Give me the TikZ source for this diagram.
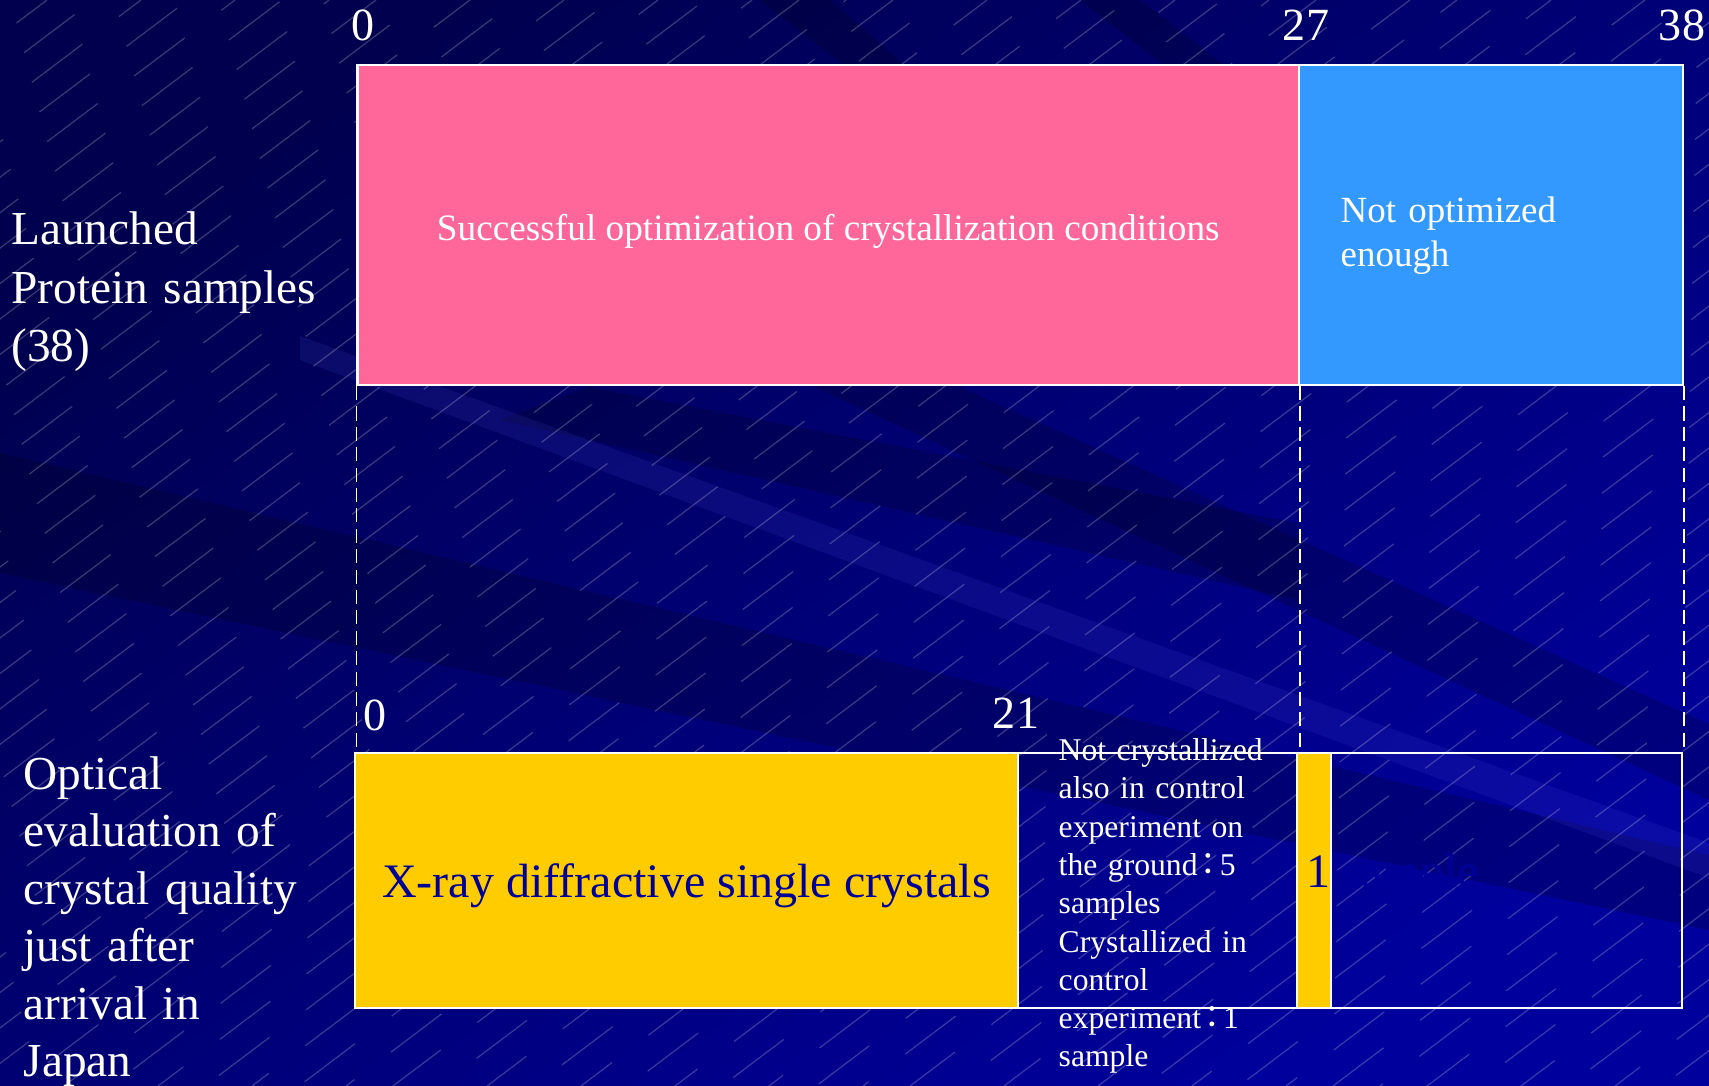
\documentclass[tikz,border=0pt]{standalone}
\usepackage{fontspec}
\setmainfont{Liberation Serif}
\newfontfamily\cjk{Noto Sans CJK JP}
\usetikzlibrary{fit,calc}
\definecolor{bgdark}{HTML}{00004E}
\definecolor{bglight}{HTML}{00009C}
\definecolor{pinkbar}{HTML}{FF6699}
\definecolor{bluebar}{HTML}{3399FF}
\definecolor{yellowbar}{HTML}{FFCC00}
\definecolor{inkblue}{HTML}{000099}
\newcommand{\fwcolon}{\makebox[0.7em]{\cjk ：}}
\tikzset{seg/.style={draw=white,line width=0.6pt,inner sep=0pt},
  num/.style={text=white,inner sep=0pt,anchor=base,font=\fontsize{13.1pt}{15pt}\selectfont},
  side/.style={text=white,inner sep=0pt,anchor=base west,align=left,text width=3.4cm},
  gap/.style={draw=white,line width=0.45pt,dash pattern=on 4pt off 1.8pt},
  shadow/.style={fill=black,fill opacity=0.18},
  glow/.style={fill=blue!55!white,fill opacity=0.1},
  hatch/.style={draw=white,draw opacity=0.22,line width=0.35pt,dash pattern=on 18pt off 13pt}}

\begin{document}
\begin{tikzpicture}[x=0.01cm,y=-0.01cm]
\useasboundingbox (0,0) rectangle (1709,1086);
% background
\shade[top color=bgdark,bottom color=bglight,shading angle=35] (0,0) rectangle (1709,1086);
\begin{scope}
\clip (0,0) rectangle (1709,1086);
\fill[shadow] (0,453) -- (1709,855) -- (1709,930) -- (0,573) -- cycle;
\fill[shadow] (360,117) -- (1709,724) -- (1709,800) -- (360,177) -- cycle;
\fill[shadow] (589,387) -- (1298,523) -- (1298,600) -- (500,420) -- cycle;
\fill[shadow] (760,0) -- (830,0) -- (910,70) -- (850,70) -- cycle;
\fill[shadow] (1080,0) -- (1140,0) -- (1230,70) -- (1170,70) -- cycle;
\fill[glow] (300,336) -- (1709,843) -- (1709,878) -- (300,360) -- cycle;
\foreach \x [evaluate=\x as \ph using {mod(abs(\x)*3,31)}] in {-1440,-1393,...,1709}
  \draw[hatch,dash phase=\ph pt] (\x,1086) -- ++(1440,-1086);
\end{scope}

% upper bar
\node[seg,fill=pinkbar,fit={(357.5,65) (1299,385)}] (opt) {};
\node[text=white,inner sep=0pt,font=\fontsize{10.6pt}{12.5pt}\selectfont] (opttxt) at ($(opt.center)+(0,6)$)
  {Successful optimization of crystallization conditions};
\node[seg,fill=bluebar,fit={(1299,65) (1683,385)}] (notopt) {};
\node[side,text width=3.3cm,font=\fontsize{10.5pt}{12.5pt}\selectfont] (notopttxt) at (1340,222.7) {Not optimized\\enough};
\foreach \x/\n in {363/0,1306/27,1682/38} \node[num] (top\n) at (\x,41) {\n};
\node[side,font=\fontsize{13.45pt}{16.6pt}\selectfont] (launched) at (10.7,245) {Launched\\Protein samples\\(38)};

% lower bar
\node[seg,fill=yellowbar,fit={(355,752.7) (1018,1008)}] (xray) {};
\node[text=inkblue,inner sep=0pt,font=\fontsize{13.66pt}{16pt}\selectfont] (xraytxt) at ($(xray.center)+(0,5)$)
  {X-ray diffractive single crystals};
\node[seg,fit={(1018,752.7) (1297,1008)}] (ctrl) {};
\node[seg,fill=yellowbar,fit={(1297,752.7) (1331,1008)}] (strip) {};
\node[seg,fit={(1331,752.7) (1682,1008)}] (rest) {};
\node[side,text width=2.6cm,font=\fontsize{9pt}{10.88pt}\selectfont] (ctrltxt) at (1058,760.7)
  {Not crystallized\\also in control\\experiment on\\the ground\fwcolon5\\samples\\Crystallized in\\control\\experiment\fwcolon1\\sample};
\node[anchor=base west,inner sep=0pt,text=inkblue,font=\fontsize{13.66pt}{16pt}\selectfont] (one) at (1306,888) {1 sample};
\foreach \x/\y/\n in {375/731/0,1016/729/21} \node[num] (bot\n) at (\x,\y) {\n};
\node[side,font=\fontsize{13.45pt}{16.36pt}\selectfont] (optical) at (23,789.3)
  {Optical\\evaluation of\\crystal quality\\just after\\arrival in\\Japan};

% guide lines between the bars
\draw[gap] (opt.south west) -- (opt.south west |- xray.north);
\draw[gap] (opt.south east) -- (opt.south east |- ctrl.north);
\draw[gap] (notopt.south east) -- (notopt.south east |- rest.north);
\end{tikzpicture}
\end{document}
